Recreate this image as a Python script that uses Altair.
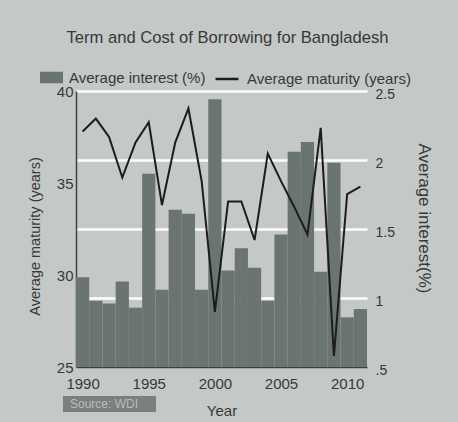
import altair as alt
import pandas as pd

years = list(range(1990, 2012))
interest = [1.15, 0.98, 0.96, 1.12, 0.93, 1.90, 1.06, 1.64, 1.61, 1.06, 2.44,
            1.20, 1.36, 1.22, 0.98, 1.46, 2.06, 2.13, 1.19, 1.98, 0.86, 0.92]
maturity = [37.8, 38.5, 37.5, 35.3, 37.2, 38.3, 33.8, 37.2, 39.05, 35.1, 28.0,
            34.0, 34.0, 31.9, 36.6, 35.1, 33.7, 32.2, 38.0, 25.6, 34.4, 34.8]
series_bar = "Average interest (%)"
series_line = "Average maturity (years)"
source_text = ["Source: WDI"]

FONT = "Liberation Sans"
TXT = "#383838"
BG = "#c4c8c6"
BAR = "#6b7570"
LINE = "#1c1c1c"

df = pd.DataFrame({"year": years, "interest": interest, "maturity": maturity,
                   "sb": series_bar, "sl": series_line})

xscale = alt.Scale(domain=[1989.5, 2011.5], nice=False, zero=False)
xaxis = alt.Axis(title="Year", values=[1990, 1995, 2000, 2005, 2010], format="d",
                 grid=False, ticks=False, labelPadding=9, domainColor="#404040",
                 domainWidth=1.5, titlePadding=12, labelFontSize=15, titleFontSize=15)

bars = alt.Chart(df).transform_calculate(
    x0="datum.year - 0.5", x1="datum.year + 0.5"
).mark_rect().encode(
    x=alt.X("x0:Q", scale=xscale, axis=xaxis),
    x2="x1:Q",
    y=alt.Y("interest:Q",
            scale=alt.Scale(domain=[0.5, 2.5], nice=False, zero=False),
            axis=alt.Axis(orient="right", title="Average interest(%)",
                          values=[0.5, 1, 1.5, 2, 2.5],
                          labelExpr="datum.value == 0.5 ? '.5' : '' + datum.value",
                          grid=True, gridColor="white", gridWidth=2.5,
                          gridOpacity=alt.condition("datum.value == 0.5", alt.value(0), alt.value(1)),
                          domain=False, ticks=False, labelPadding=8, labelOffset=3,
                          labelFontSize=14, titleFontSize=17, titlePadding=20,
                          titleY=127)),
    y2=alt.datum(0.5),
    color=alt.Color("sb:N", scale=alt.Scale(range=[BAR]),
                    legend=alt.Legend(title=None, orient="none", legendX=-36, legendY=-25,
                                      symbolType="M-1,-0.5H1V0.5H-1Z", symbolSize=529,
                                      symbolStrokeWidth=0, labelFontSize=15, labelOffset=6,
                                      labelLimit=300, labelColor=TXT, labelFont=FONT)),
)

line = alt.Chart(df).mark_line(strokeWidth=2).encode(
    x=alt.X("year:Q", scale=xscale, axis=xaxis),
    y=alt.Y("maturity:Q",
            scale=alt.Scale(domain=[25, 40], nice=False, zero=False),
            axis=alt.Axis(orient="left", title="Average maturity (years)",
                          values=[25, 30, 35, 40], grid=False, ticks=False,
                          domainColor="#404040", domainWidth=1.5, labelPadding=3,
                          labelFontSize=15, titleFontSize=14.5, titlePadding=14,
                          titleY=145)),
    color=alt.Color("sl:N", scale=alt.Scale(range=[LINE]),
                    legend=alt.Legend(title=None, orient="none", legendX=138, legendY=-25,
                                      symbolType="stroke", symbolSize=529,
                                      symbolStrokeWidth=2.5, labelFontSize=15, labelOffset=7,
                                      labelLimit=300, labelColor=TXT, labelFont=FONT)),
)

src_df = pd.DataFrame({"t": source_text})
src_box = alt.Chart(src_df).mark_rect(fill="#7a807d").encode(
    x=alt.value(-13), x2=alt.value(80), y=alt.value(305), y2=alt.value(321))
src_txt = alt.Chart(src_df).mark_text(align="left", baseline="middle", fontSize=12,
                                      color="#b9bdbb", font=FONT).encode(
    x=alt.value(-6), y=alt.value(313), text="t:N")

chart = alt.layer(bars, line, src_box, src_txt).resolve_scale(
    y="independent", color="independent"
).resolve_legend(color="independent").properties(
    width=291, height=276,
    padding={"left": 76, "top": 91, "right": 91, "bottom": 55},
    autosize=alt.AutoSizeParams(type="none"),
    background=BG,
    title=alt.Title("Term and Cost of Borrowing for Bangladesh", fontSize=16.6,
                    font=FONT, color=TXT, fontWeight="normal", anchor="middle",
                    dx=6, offset=19),
).configure_view(stroke=None).configure_axis(
    labelFont=FONT, titleFont=FONT, labelColor=TXT, titleColor=TXT,
    titleFontWeight="normal"
)

chart.save("out.html", embed_options={"renderer": "svg", "actions": False})
